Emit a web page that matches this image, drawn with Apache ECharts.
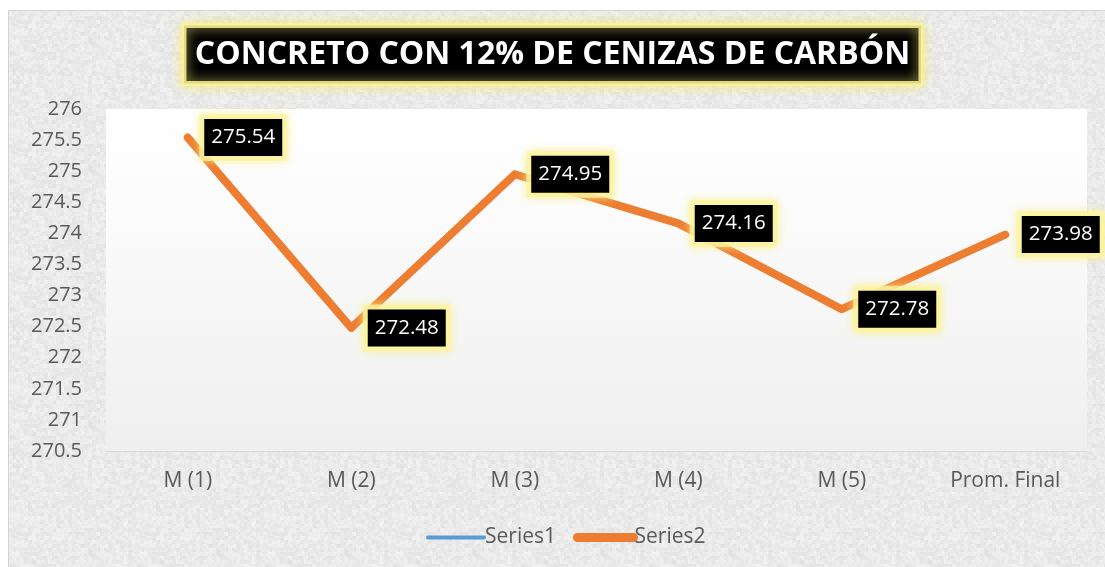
<!DOCTYPE html>
<html>
<head>
<meta charset="utf-8">
<script src="https://cdn.jsdelivr.net/npm/echarts@6/dist/echarts.min.js"></script>
<style>
html,body{margin:0;padding:0;background:#ffffff;}
#chart{width:1105px;height:567px;}
</style>
</head>
<body>
<div id="chart"></div>
<script>
var titleText = 'CONCRETO CON 12% DE CENIZAS DE CARBÓN';
var categories = ['M (1)', 'M (2)', 'M (3)', 'M (4)', 'M (5)', 'Prom. Final'];
var series1Values = [];
var series2Values = [275.54, 272.48, 274.95, 274.16, 272.78, 273.98];
var yMin = 270.5, yMax = 276, yStep = 0.5;

// deterministic granite-like texture for the chart background
function makeTexture() {
  var c = document.createElement('canvas');
  c.width = 128; c.height = 128;
  var ctx = c.getContext('2d');
  var img = ctx.createImageData(128, 128);
  function h(x, y) {
    var s = Math.sin(x * 127.1 + y * 311.7) * 43758.5453;
    return s - Math.floor(s);
  }
  for (var y = 0; y < 128; y++) {
    for (var x = 0; x < 128; x++) {
      var v = h(x >> 2, y >> 2) * 0.5 + h(x >> 1, y >> 1) * 0.3 + h(x, y) * 0.2;
      var g = Math.round(222 + v * 24);
      var i = (y * 128 + x) * 4;
      img.data[i] = g; img.data[i + 1] = g; img.data[i + 2] = g; img.data[i + 3] = 255;
    }
  }
  ctx.putImageData(img, 0, 0);
  return c;
}

var chart = echarts.init(document.getElementById('chart'), null, {renderer: 'canvas'});
var font = '"Open Sans", "Noto Sans", sans-serif';

var option = {
  backgroundColor: '#ffffff',
  animation: false,
  graphic: [{
    type: 'rect',
    z: -10,
    shape: {x: 8.5, y: 10.5, width: 1100, height: 560},
    style: {fill: {image: makeTexture(), repeat: 'repeat'}, stroke: '#d4d4d4', lineWidth: 1}
  }],
  title: {
    text: titleText,
    left: 'center',
    top: 25,
    padding: [11, 11, 10, 11],
    backgroundColor: '#000000',
    borderColor: 'rgba(250,242,150,0.85)',
    borderWidth: 5,
    shadowBlur: 12,
    shadowColor: 'rgba(245,235,120,0.9)',
    textStyle: {
      color: '#ffffff',
      fontFamily: font,
      fontWeight: 'bold',
      fontSize: 32,
      lineHeight: 38
    }
  },
  legend: {
    bottom: 14,
    left: 421,
    itemWidth: 56,
    itemHeight: 14,
    itemGap: 17,
    textStyle: {color: '#595959', fontFamily: font, fontSize: 21, padding: [0, 0, 0, -4]},
    data: [
      {name: 'Series1', lineStyle: {width: 4, cap: 'round'}, itemStyle: {opacity: 0}},
      {name: 'Series2', lineStyle: {width: 9, cap: 'round'}, itemStyle: {opacity: 0}}
    ]
  },
  grid: {
    left: 106,
    right: 18,
    top: 109,
    bottom: 116,
    show: true,
    borderWidth: 0,
    backgroundColor: {
      type: 'linear', x: 0, y: 0, x2: 0, y2: 1,
      colorStops: [
        {offset: 0, color: '#ffffff'},
        {offset: 0.25, color: '#fcfcfc'},
        {offset: 1, color: '#efefef'}
      ]
    }
  },
  xAxis: {
    type: 'category',
    data: categories,
    boundaryGap: true,
    axisLine: {show: true, lineStyle: {color: '#d9d9d9', width: 1}},
    axisTick: {show: false},
    axisLabel: {color: '#595959', fontFamily: font, fontSize: 21, margin: 20}
  },
  yAxis: {
    type: 'value',
    min: yMin,
    max: yMax,
    interval: yStep,
    axisLine: {show: false},
    axisTick: {show: false},
    splitLine: {show: false},
    axisLabel: {color: '#595959', fontFamily: font, fontSize: 20, margin: 24}
  },
  series: [
    {
      name: 'Series1',
      type: 'line',
      data: series1Values,
      symbol: 'none',
      itemStyle: {color: '#5B9BD5'},
      lineStyle: {color: '#5B9BD5', width: 3}
    },
    {
      name: 'Series2',
      type: 'line',
      data: series2Values,
      symbol: 'circle',
      symbolSize: 1,
      showSymbol: true,
      itemStyle: {color: '#ED7D31'},
      lineStyle: {color: '#ED7D31', width: 8, cap: 'round', join: 'round'},
      label: {
        show: true,
        position: 'right',
        distance: 16,
        color: '#ffffff',
        fontFamily: font,
        fontSize: 20.5,
        lineHeight: 24,
        backgroundColor: '#000000',
        padding: [7, 7, 6, 7],
        borderColor: 'rgba(252,246,170,0.75)',
        borderWidth: 5,
        shadowBlur: 10,
        shadowColor: 'rgba(248,238,130,0.85)'
      },
      z: 3
    }
  ]
};
chart.setOption(option);
</script>
</body>
</html>
